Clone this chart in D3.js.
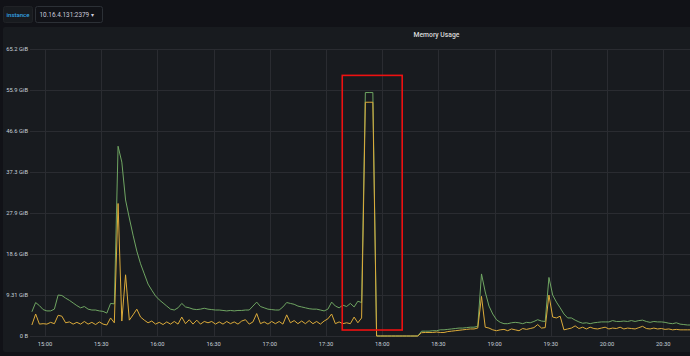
<!DOCTYPE html>
<html><head><meta charset="utf-8">
<script src="https://cdn.jsdelivr.net/npm/d3@7/dist/d3.min.js"></script>
<style>
html,body{margin:0;padding:0;background:#111217;}
svg{display:block;font-family:Roboto,"Noto Sans",sans-serif;}
</style></head>
<body><svg id="c" width="690" height="356"></svg>
<script>
// ---- data ----
const startTime = "14:53";
const stepMinutes = 2;
// green series (GiB)
const memA = [
 5.5,7.6,6.9,6.0,5.7,5.7,6.1,9.3,9.2,8.6,
 8.1,7.5,6.9,6.4,6.7,6.1,5.9,5.9,5.7,5.6,
 5.2,7.4,7.3,43.1,39.5,30.9,26.8,22.9,19.3,16.4,
 14.1,11.8,10.4,9.1,8.2,7.5,6.8,6.1,5.9,6.4,
 7.4,6.6,6.4,6.1,6.0,6.1,6.3,6.1,6.0,5.9,
 5.9,5.8,5.7,5.8,5.7,5.8,5.8,5.9,5.9,6.8,
 7.7,6.7,6.4,6.1,6.0,5.9,5.9,6.6,7.6,7.4,
 7.2,6.8,6.6,6.4,6.2,6.1,6.1,5.9,5.7,6.1,
 7.7,6.8,6.4,7.0,6.7,7.4,6.6,7.9,7.6,55.3,
 55.3,55.3,0,0,0,0,0,0,0,0,
 0,0,0,0,1.1,1.1,1.1,1.2,1.2,1.4,
 1.4,1.5,1.6,1.7,1.8,1.8,1.9,2.0,2.0,2.2,
 14.1,10.0,6.8,5.0,3.7,3.1,2.8,2.8,3.0,3.1,
 3.0,2.8,3.1,3.0,3.3,3.7,3.4,3.3,13.3,9.3,
 7.7,6.4,5.0,4.1,4.1,3.6,3.2,2.9,3.0,2.8,
 3.0,3.1,3.2,3.2,3.2,3.5,3.3,3.3,3.4,3.3,
 3.5,3.3,3.5,3.6,3.3,3.1,3.3,3.2,3.2,3.1,
 2.9,2.8,3.0,2.7,2.6,2.5,2.5
];
// yellow series (GiB)
const memB = [
 2.5,5.0,2.7,2.8,2.7,3.1,2.8,4.7,4.5,3.0,
 3.2,2.7,3.1,2.7,3.3,2.7,3.1,2.6,3.2,2.7,
 2.5,4.1,3.0,30.1,3.4,13.9,3.6,4.8,6.1,4.3,
 3.6,3.0,3.4,2.7,3.1,2.6,3.2,2.7,3.3,2.7,
 4.3,2.8,3.7,2.7,3.6,2.7,3.3,3.0,3.3,2.7,
 3.2,2.7,3.3,2.8,3.2,2.7,3.4,3.7,2.7,3.2,
 5.1,2.8,3.2,2.7,3.3,2.8,3.3,2.7,4.8,3.0,
 3.5,2.8,3.4,2.8,3.5,2.8,3.3,2.7,3.4,3.9,
 5.0,2.8,3.2,2.8,3.0,2.8,4.3,3.0,4.1,53.1,
 53.1,53.1,0,0,0,0,0,0,0,0,
 0,0,0,0,0.75,0.8,0.8,0.8,0.9,0.8,
 0.8,1.0,1.1,1.2,1.3,1.4,1.5,1.6,1.6,1.8,
 9.0,2.0,1.8,1.4,1.2,1.4,1.5,1.2,1.6,1.4,
 1.2,1.7,1.5,1.7,1.9,2.6,1.8,1.9,9.3,4.3,
 4.1,4.5,1.4,1.6,1.8,2.3,1.7,2.0,1.6,2.0,
 1.7,1.6,1.8,2.0,1.6,1.8,1.7,2.0,1.6,1.8,
 1.7,1.6,1.9,2.2,1.7,1.6,1.8,1.6,1.7,1.5,
 1.6,1.4,1.5,1.4,1.4,1.4,1.4
];
const yTicks = [0, 9.313, 18.626, 27.94, 37.253, 46.566, 55.879, 65.193];
const yTickLabels = ["0 B","9.31 GiB","18.6 GiB","27.9 GiB","37.3 GiB","46.6 GiB","55.9 GiB","65.2 GiB"];
const xTickLabels = ["15:00","15:30","16:00","16:30","17:00","17:30","18:00","18:30","19:00","19:30","20:00","20:30"];
const highlightTimes = ["17:38:40","18:10:40"];
const highlightValues = [1.36, 59.2];
const panelTitle = "Memory Usage";
const variableName = "instance";
const variableValue = "10.16.4.131:2379";

// ---- helpers ----
const parseT = s => { const p = s.split(":").map(Number); return new Date(2021,0,1,p[0],p[1],p[2]||0); };
const t0 = parseT(startTime);
const times = memA.map((_, i) => d3.timeMinute.offset(t0, i*stepMinutes));

const svg = d3.select("#c");
svg.append("rect").attr("width",690).attr("height",356).attr("fill","#111217");

// variable bar
svg.append("rect").attr("x",3.5).attr("y",6.5).attr("width",29).attr("height",16).attr("rx",2)
  .attr("fill","#181b1f").attr("stroke","#202226");
svg.append("text").attr("x",18).attr("y",17).attr("text-anchor","middle")
  .attr("font-size",6).attr("font-weight",500).attr("fill","#33a2e5").text(variableName);
svg.append("rect").attr("x",35.5).attr("y",6.5).attr("width",67).attr("height",16).attr("rx",2)
  .attr("fill","#111217").attr("stroke","#2c3036");
svg.append("text").attr("x",39.5).attr("y",17).attr("font-size",6.4).attr("fill","#ccccdc")
  .text(variableValue + " \u25BE");

// panel
svg.append("rect").attr("x",3).attr("y",27).attr("width",700).attr("height",325).attr("rx",2)
  .attr("fill","#181b1f");
svg.append("text").attr("x",436.5).attr("y",37).attr("text-anchor","middle")
  .attr("font-size",6.8).attr("font-weight",500).attr("fill","#d8d9da").text(panelTitle);

const x = d3.scaleTime().domain([t0, times[times.length-1]]).range([31.9, 31.9 + 1.87333*stepMinutes*(times.length-1)]);
const y = d3.scaleLinear().domain([0, yTicks[yTicks.length-1]]).range([336, 49]);

const xTicks = xTickLabels.map(parseT);
const plotLeft = 30, plotRight = 700;

// grid
const g = svg.append("g");
g.selectAll(".hg").data(yTicks).join("line")
  .attr("x1",plotLeft).attr("x2",plotRight)
  .attr("y1",d=>Math.round(y(d))+0.5).attr("y2",d=>Math.round(y(d))+0.5)
  .attr("stroke","#2a2c31").attr("stroke-width",1);
g.selectAll(".vg").data(xTicks).join("line")
  .attr("x1",d=>Math.round(x(d))+0.5).attr("x2",d=>Math.round(x(d))+0.5)
  .attr("y1",y(yTicks[yTicks.length-1])).attr("y2",y(0))
  .attr("stroke","#2a2c31").attr("stroke-width",1);

// axis labels
svg.append("g").selectAll("text").data(yTicks).join("text")
  .attr("x",28).attr("y",d=>y(d)+2).attr("text-anchor","end")
  .attr("font-size",5.8).attr("fill","#c7d0d9").text((d,i)=>yTickLabels[i]);
svg.append("g").selectAll("text").data(xTicks).join("text")
  .attr("x",d=>x(d)).attr("y",345.5).attr("text-anchor","middle")
  .attr("font-size",5.8).attr("fill","#c7d0d9").text((d,i)=>xTickLabels[i]);

// clip
svg.append("clipPath").attr("id","clip").append("rect")
  .attr("x",plotLeft).attr("y",40).attr("width",690-plotLeft).attr("height",300);

const line = d3.line().x((d)=>x(d[0])).y(d=>y(d[1]));
const lines = svg.append("g").attr("clip-path","url(#clip)");
lines.append("path").datum(times.map((t,i)=>[t,memA[i]]))
  .attr("d",line).attr("fill","none").attr("stroke","#6fa562").attr("stroke-width",1).attr("stroke-linejoin","round");
lines.append("path").datum(times.map((t,i)=>[t,memB[i]]))
  .attr("d",line).attr("fill","none").attr("stroke","#dcab3a").attr("stroke-width",1).attr("stroke-linejoin","round");

// highlight box
const hx0 = x(parseT(highlightTimes[0])), hx1 = x(parseT(highlightTimes[1]));
const hy0 = y(highlightValues[1]), hy1 = y(highlightValues[0]);
svg.append("rect").attr("x",hx0).attr("y",hy0).attr("width",hx1-hx0).attr("height",hy1-hy0)
  .attr("fill","none").attr("stroke","#ee1111").attr("stroke-width",1.6);
</script></body></html>
